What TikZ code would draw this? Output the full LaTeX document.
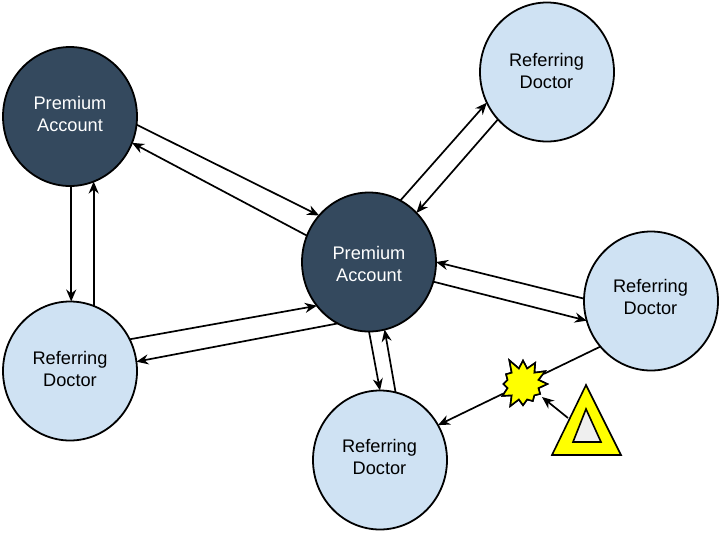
\documentclass[tikz,border=0pt]{standalone}
\usepackage{fontspec}
\setmainfont{Liberation Sans}
\usetikzlibrary{arrows.meta, shapes.geometric, shapes.symbols}

\definecolor{premiumblue}{HTML}{34495E}
\definecolor{referringblue}{HTML}{CFE2F3}
\definecolor{warnyellow}{HTML}{FFFF00}
\definecolor{warngray}{HTML}{EFEFEF}

\tikzset{
    account/.style = {ellipse, draw, line width = 1.8pt, inner sep = 0pt, outer sep = 0pt,
        minimum width = 134pt, minimum height = 139pt},
    premium/.style = {account, fill = premiumblue},
    referring/.style = {account, fill = referringblue},
    caption/.style = {inner sep = 0pt, align = center,
        font = \fontsize{18.2}{22}\selectfont},
    link/.style = {line width = 1.7pt, -{Stealth[length = 12pt, width = 10pt]}},
    plain/.style = {line width = 1.7pt},
    warnshape/.style = {draw, line width = 1.6pt, line join = miter},
    burstshape/.style = {starburst, starburst points = 12, starburst point height = 12pt,
        minimum width = 56pt, minimum height = 56pt, inner sep = 0pt,
        random starburst = 5, warnshape, fill = warnyellow}
}

\begin{document}
\begin{tikzpicture}[x = 1pt, y = -1pt]
    \useasboundingbox (0, 0) rectangle (722, 533);

    \node [premium] (premiumleft) at (70, 116.5) {};
    \node [premium] (premiumcenter) at (369, 262) {};
    \node [referring] (doctortop) at (547, 72) {};
    \node [referring] (doctorright) at (651, 301) {};
    \node [referring] (doctorbottom) at (380, 460) {};
    \node [referring] (doctorleft) at (70, 371) {};

    \node [caption, text = white] (premiumlefttext) at (70, 114) {Premium\\Account};
    \node [caption, text = white] (premiumcentertext) at (369, 264) {Premium\\Account};
    \node [caption] (doctortoptext) at (546.5, 71) {Referring\\Doctor};
    \node [caption] (doctorrighttext) at (650.5, 297) {Referring\\Doctor};
    \node [caption] (doctorbottomtext) at (379.5, 457) {Referring\\Doctor};
    \node [caption] (doctorlefttext) at (70, 369) {Referring\\Doctor};

    \node [burstshape] (burst) at (523, 384) {};

    \coordinate (warnapex) at (586, 385);
    \coordinate (warnleft) at (552, 455);
    \coordinate (warnright) at (621, 455);
    \coordinate (warnside) at (568, 418);
    \coordinate (burstin) at (542, 397);

    \draw [warnshape, fill = warnyellow]
        (warnapex) -- (warnright) -- (warnleft) -- cycle
    ;
    \draw [warnshape, fill = warngray]
        (586, 409) -- (601, 442) -- (573, 442) -- cycle
    ;

    \draw [link] (premiumleft.-7) -- (premiumcenter.137);
    \draw [link] (premiumcenter.157) -- (premiumleft.-23);
    \draw [link] (premiumleft.-89) -- (doctorleft.89);
    \draw [link] (doctorleft.70) -- (premiumleft.-70);

    \draw [link] (doctorleft.28) -- (premiumcenter.220);
    \draw [link] (premiumcenter.243) -- (doctorleft.8);
    \draw [link] (premiumcenter.63) -- (doctortop.207);
    \draw [link] (doctortop.224) -- (premiumcenter.46);
    \draw [link] (doctorright.178) -- (premiumcenter.0);
    \draw [link] (premiumcenter.-17) -- (doctorright.197);
    \draw [link] (premiumcenter.-90) -- (doctorbottom.90);
    \draw [link] (doctorbottom.77) -- (premiumcenter.-77);

    \draw [plain] (doctorright.222) -- (burst);
    \draw [link] (burst) -- (doctorbottom.31);
    \draw [link] (warnside) -- (burstin);

    \node [burstshape] (burstfront) at (burst) {};
\end{tikzpicture}
\end{document}
